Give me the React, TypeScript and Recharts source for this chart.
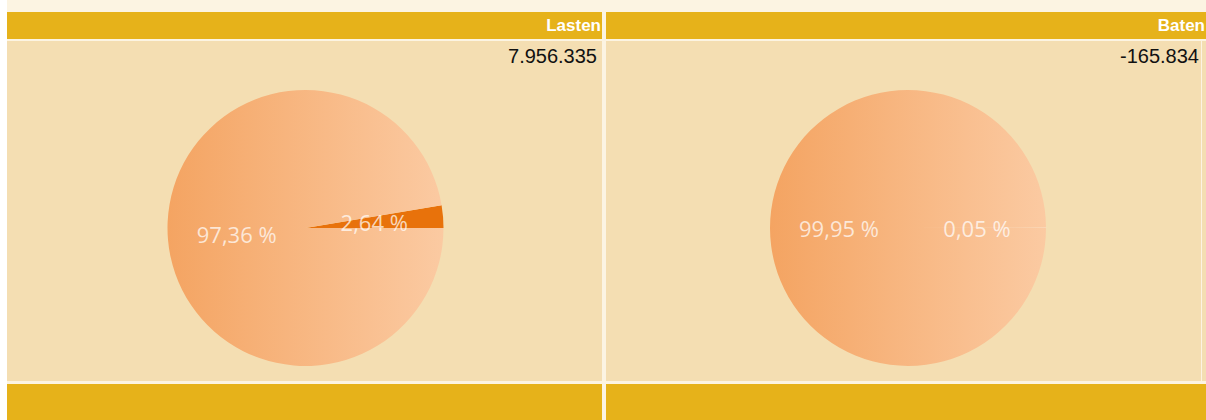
import { PieChart, Pie, Cell } from "recharts";

// panel headings + totals
const panelTitles = ["Lasten", "Baten"];
const panelTotals = ["7.956.335", "-165.834"];

// slice shares in percent (small slice first, starts at 0°)
const sliceNames = ["Overig", "Hoofdpost"];
const lastenShares = [2.64, 97.36];
const batenShares = [0.05, 99.95];

const GOLD = "#e6b21a";
const BEIGE = "#f4deb2";
const CREAM = "#fcf4e2";
const RAD = Math.PI / 180;

const toRows = (shares: number[]) => sliceNames.map((name, i) => ({ name, value: shares[i] }));

function renderLabel(props: any) {
  const { cx, cy, midAngle, outerRadius, percent } = props;
  const r = outerRadius * 0.5;
  const x = cx + r * Math.cos(-midAngle * RAD);
  const y = cy + r * Math.sin(-midAngle * RAD);
  return (
    <text
      x={x}
      y={y}
      fill="#ffffff"
      fillOpacity={0.72}
      textAnchor="middle"
      dominantBaseline="central"
      fontFamily="'Open Sans', sans-serif"
      fontSize={22}
    >
      {(percent * 100).toFixed(2).replace(".", ",")} %
    </text>
  );
}

type PanelProps = {
  left: number;
  width: number;
  title: string;
  total: string;
  shares: number[];
  cx: number;
  gradId: string;
  smallStroke: string;
  edgeLine?: boolean;
};

function Panel({ left, width, title, total, shares, cx, gradId, smallStroke, edgeLine }: PanelProps) {
  return (
    <div style={{ position: "absolute", left, top: 0, width, height: 420 }}>
      <div
        style={{
          position: "absolute",
          top: 12,
          left: 0,
          width,
          height: 27,
          background: GOLD,
          color: "#fff",
          fontFamily: "'Liberation Sans', Arial, sans-serif",
          fontWeight: 700,
          fontSize: 17,
          lineHeight: "27px",
          textAlign: "right",
          boxSizing: "border-box",
          paddingRight: 1,
        }}
      >
        {title}
      </div>
      <div style={{ position: "absolute", top: 41, left: 0, width, height: 340, background: BEIGE }}>
        {edgeLine && (
          <div style={{ position: "absolute", left: 595, top: 0, width: 1, height: 340, background: "#fdf3e3" }} />
        )}
        <div
          style={{
            position: "absolute",
            top: 3,
            right: edgeLine ? 7 : 5,
            fontFamily: "'Liberation Sans', Arial, sans-serif",
            fontSize: 20,
            lineHeight: "24px",
            color: "#111",
          }}
        >
          {total}
        </div>
        <div style={{ position: "absolute", top: 0, left: 0 }}>
          <PieChart width={width} height={340} margin={{ top: 0, right: 0, bottom: 0, left: 0 }}>
            <defs>
              <linearGradient id={gradId} x1="0" y1="0" x2="1" y2="0">
                <stop offset="0%" stopColor="#f4a462" />
                <stop offset="100%" stopColor="#fbcaa2" />
              </linearGradient>
            </defs>
            <Pie
              data={toRows(shares)}
              dataKey="value"
              nameKey="name"
              cx={cx}
              cy={187}
              outerRadius={138}
              startAngle={0}
              endAngle={360}
              labelLine={false}
              label={renderLabel}
              isAnimationActive={false}
            >
              <Cell fill="#e8720b" stroke={smallStroke} strokeWidth={1} />
              <Cell fill={`url(#${gradId})`} stroke="none" />
            </Pie>
          </PieChart>
        </div>
      </div>
      <div style={{ position: "absolute", top: 384, left: 0, width, height: 36, background: GOLD }} />
    </div>
  );
}

export default function App() {
  return (
    <div style={{ position: "relative", width: 1206, height: 420, background: "#fff", overflow: "hidden" }}>
      <style>{`html, body { margin: 0; padding: 0; overflow: hidden; }`}</style>
      <div style={{ position: "absolute", left: 7, top: 0, width: 1199, height: 420, background: CREAM }} />
      <Panel
        left={7}
        width={595}
        title={panelTitles[0]}
        total={panelTotals[0]}
        shares={lastenShares}
        cx={298.5}
        gradId="gradLasten"
        smallStroke="none"
      />
      <Panel
        left={606}
        width={600}
        title={panelTitles[1]}
        total={panelTotals[1]}
        shares={batenShares}
        cx={302}
        gradId="gradBaten"
        smallStroke="#fbe4cc"
        edgeLine
      />
    </div>
  );
}
